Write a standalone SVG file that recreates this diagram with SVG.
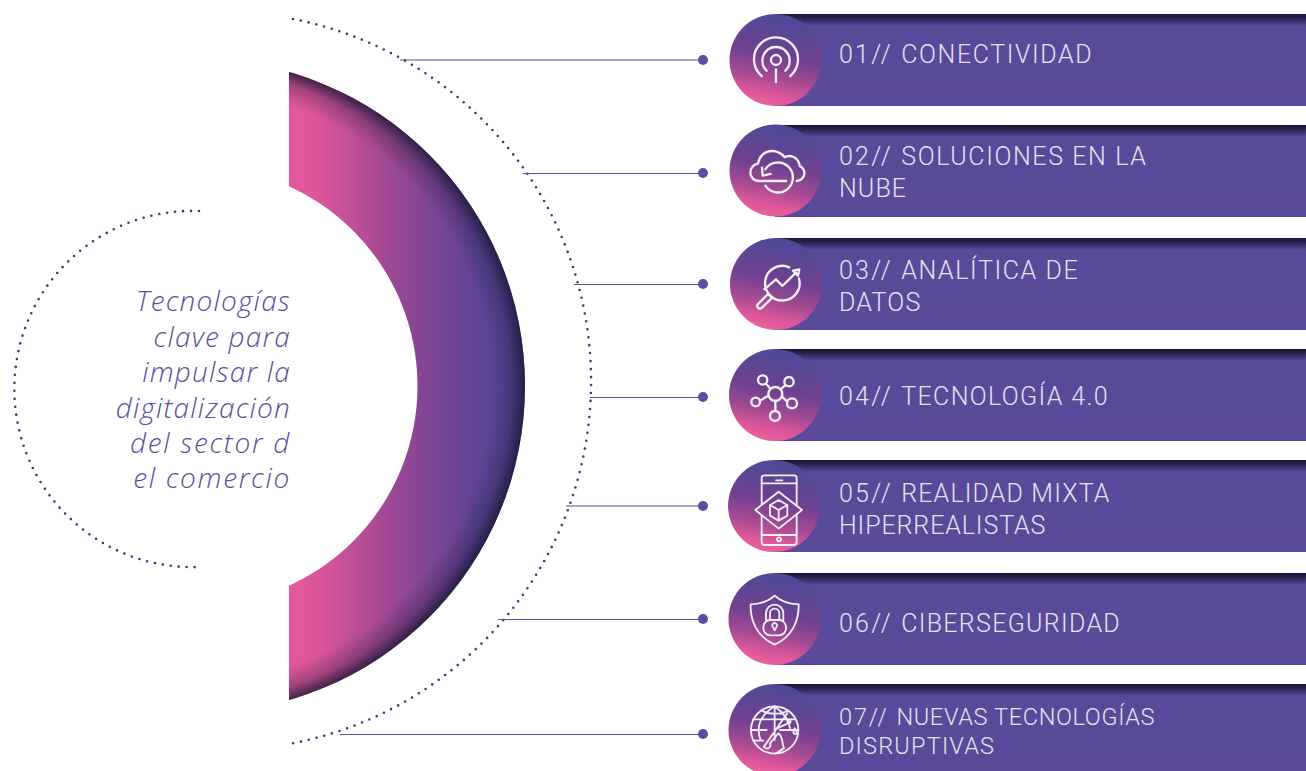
<svg xmlns="http://www.w3.org/2000/svg" width="1306" height="771" viewBox="0 0 1306 771">
<style>
.bar{fill:url(#barG)}
.disc{fill:url(#circG)}
.lbl{font-family:"Roboto","Liberation Sans",sans-serif;font-weight:300;font-size:25px;letter-spacing:1.6px;fill:#e6e3f1}
.sm{font-size:23.5px;letter-spacing:1.2px}
.pre{letter-spacing:2.25px}
.ttl{font-family:"Open Sans","Liberation Sans",sans-serif;font-weight:300;font-style:italic;font-size:28px;letter-spacing:1.2px;fill:#5b4e9e;text-anchor:end}
.dots{fill:none;stroke:#3f3876;stroke-width:2.6;stroke-linecap:round;stroke-dasharray:0 8}
.ln{stroke:#5b4e9e;stroke-width:1.2;fill:none}
.pt{fill:#5b4e9e}
.ic{fill:none;stroke:#f1eff6;stroke-width:7;stroke-linecap:round;stroke-linejoin:round}
.ic2{fill:none;stroke:#f1eff6;stroke-width:5.5;stroke-linecap:round;stroke-linejoin:round}
</style>
<defs>
<linearGradient id="barG" x1="0" y1="0" x2="0" y2="1"><stop offset="0" stop-color="#1c1736"/><stop offset=".035" stop-color="#241d45"/><stop offset=".13" stop-color="#59499a"/><stop offset="1" stop-color="#5a4a99"/></linearGradient>
<linearGradient id="circG" x1=".6" y1="0" x2=".4" y2="1"><stop offset="0" stop-color="#4b4a98"/><stop offset=".45" stop-color="#6f4190"/><stop offset=".68" stop-color="#a14a92"/><stop offset=".88" stop-color="#e0579a"/><stop offset="1" stop-color="#e8639f"/></linearGradient>
<linearGradient id="ringG" gradientUnits="userSpaceOnUse" x1="289" y1="0" x2="525" y2="0"><stop offset="0" stop-color="#e4599c"/><stop offset=".12" stop-color="#dc5699"/><stop offset=".46" stop-color="#974793"/><stop offset=".78" stop-color="#5f4496"/><stop offset="1" stop-color="#534595"/></linearGradient>
<radialGradient id="rimG" gradientUnits="userSpaceOnUse" cx="198" cy="386" r="327"><stop offset=".9" stop-color="#1a1633" stop-opacity="0"/><stop offset=".96" stop-color="#1a1633" stop-opacity=".3"/><stop offset="1" stop-color="#1a1633" stop-opacity=".8"/></radialGradient>
<clipPath id="halfC"><rect x="289" y="0" width="300" height="771"/></clipPath>
</defs>
<g id="core">
<path clip-path="url(#halfC)" fill="url(#ringG)" fill-rule="evenodd" d="M198 59a327 327 0 1 0 0 654a327 327 0 1 0 0-654zM198 166.500a219.500 219.500 0 1 1 0 439a219.500 219.500 0 1 1 0-439z"/>
<path clip-path="url(#halfC)" fill="url(#rimG)" fill-rule="evenodd" d="M198 59a327 327 0 1 0 0 654a327 327 0 1 0 0-654zM198 166.500a219.500 219.500 0 1 1 0 439a219.500 219.500 0 1 1 0-439z"/>
<path class="dots" d="M293 19A369 369 0 0 1 289 744"/>
<path class="dots" d="M199 211A178.120 178.120 0 1 0 199 567"/>
<text class="ttl"><tspan x="291" y="311">Tecnologías</tspan><tspan x="291" y="347">clave para</tspan><tspan x="291" y="382">impulsar la</tspan><tspan x="291" y="418">digitalización</tspan><tspan x="291" y="453" letter-spacing="1.7">del sector d</tspan><tspan x="291" y="488" letter-spacing="1.7">el comercio</tspan></text>
</g>
<g id="connectors">
<path class="ln" d="M400 60H702M523 173.500H702M574 284.500H702M590 397.500H702M566 506H702M498 619.500H702M340 734.500H702"/>
<circle class="pt" cx="703" cy="60" r="5"/><circle class="pt" cx="703" cy="173" r="5"/><circle class="pt" cx="703" cy="284" r="5"/><circle class="pt" cx="703" cy="397" r="5"/><circle class="pt" cx="703" cy="506" r="5"/><circle class="pt" cx="703" cy="619" r="5"/><circle class="pt" cx="703" cy="734" r="5"/>
</g>
<g id="n1">
<rect class="bar" x="775" y="14" width="531" height="92"/><circle class="disc" cx="775.500" cy="60" r="46"/>
<g transform="translate(700 0) scale(.3333)" class="ic"><circle cx="228" cy="180" r="15"/><path d="M228 208V246M185 228A66 66 0 1 1 271 228M200 212A41 41 0 1 1 256 212"/></g>
<text class="lbl" x="839" y="63"><tspan class="pre">01// </tspan>CONECTIVIDAD</text>
</g>
<g id="n2">
<rect class="bar" x="775" y="125" width="531" height="92"/><circle class="disc" cx="775.500" cy="170.500" r="46"/>
<g transform="translate(700 0) scale(.3333)" class="ic"><path d="M258 543H178C160 543 151 530 151 519C151 503 162 493 174 491C178 468 195 453 216 453C234 453 246 462 254 472C262 467 272 467 281 471C292 477 298 487 299 498C309 503 314 512 313 522C312 534 302 543 290 543"/><path d="M196 508A45 45 0 1 1 196 557"/><path d="M186 503L188 527L212 522"/></g>
<text class="lbl" x="839" y="165"><tspan class="pre">02// </tspan>SOLUCIONES EN LA</text><text class="lbl" x="839" y="197" style="letter-spacing:1.1px">NUBE</text>
</g>
<g id="n3">
<rect class="bar" x="775" y="238" width="531" height="92"/><circle class="disc" cx="776" cy="284" r="46"/>
<g transform="translate(700 230) scale(.3333)" class="ic"><path d="M268 112A52 52 0 1 0 297 145"/><path d="M204 192L174 222C167 230 178 241 186 233L216 204Z"/><path d="M193 178L228 148L247 168L288 128"/><path d="M298 118L279 122L294 137Z"/></g>
<text class="lbl" x="839" y="279"><tspan class="pre">03// </tspan>ANALÍTICA DE</text><text class="lbl" x="839" y="311" style="letter-spacing:1.2px">DATOS</text>
</g>
<g id="n4">
<rect class="bar" x="775" y="349" width="531" height="92"/><circle class="disc" cx="775" cy="395" r="46"/>
<g transform="translate(700 230) scale(.3333)" class="ic"><circle cx="226" cy="492" r="21"/><circle cx="188" cy="450" r="14"/><circle cx="267" cy="455" r="14"/><circle cx="167" cy="516" r="13"/><circle cx="276" cy="520" r="15"/><circle cx="225" cy="558" r="15"/><path d="M198 461L212 477M257 465L241 478M180 512L205 497M261 514L246 500M226 513V543"/></g>
<text class="lbl" x="839" y="405"><tspan class="pre">04// </tspan><tspan style="letter-spacing:1.35px">TECNOLOGÍA 4.0</tspan></text>
</g>
<g id="n5">
<rect class="bar" x="775" y="460" width="531" height="92"/><circle class="disc" cx="774" cy="506" r="46"/>
<g transform="translate(700 450) scale(.3333)" class="ic2"><path d="M185 163V84Q185 76 193 76H282Q290 76 290 84V167M290 194V277Q290 285 282 285H193Q185 285 185 277V196"/><path d="M185 100H290M185 255H290M228 91H247"/><circle cx="237" cy="268" r="6"/><path d="M166 180L236 125L306 180L236 236Z"/><path d="M236 150L262 165V197L236 212L210 197V165ZM210 165L236 180L262 165M236 180V212"/></g>
<text class="lbl" x="839" y="502"><tspan class="pre">05// </tspan><tspan style="letter-spacing:1.15px">REALIDAD MIXTA</tspan></text><text class="lbl" x="839" y="534" style="letter-spacing:.9px">HIPERREALISTAS</text>
</g>
<g id="n6">
<rect class="bar" x="775" y="573" width="531" height="92"/><circle class="disc" cx="774.500" cy="619" r="46"/>
<g transform="translate(700 450) scale(.3333)" class="ic2"><path d="M224 437C205 455 180 462 152 463C150 510 170 560 224 584C278 560 297 510 296 463C268 462 243 455 224 437Z"/><rect x="190" y="510" width="68" height="46" rx="21"/><path d="M198 511V490A26 26 0 0 1 250 490V511M210 510V490A14 14 0 0 1 238 490V510"/><path d="M224 541L218 530A7 7 0 1 1 230 530Z"/></g>
<text class="lbl" x="839" y="632"><tspan class="pre">06// </tspan><tspan style="letter-spacing:1.3px">CIBERSEGURIDAD</tspan></text>
</g>
<g id="n7">
<rect class="bar" x="775" y="684" width="531" height="92"/><circle class="disc" cx="774.500" cy="730" r="46"/>
<g transform="translate(700 450) scale(.3333)" class="ic2"><circle cx="224" cy="840" r="71"/><path d="M224 769C190 790 176 815 176 840C176 850 178 860 182 872M224 769C252 790 268 815 270 835M224 769V870M160 808H284M153 840H200M240 840H295M160 872H190M186 782C205 794 245 794 262 782M262 790L192 890"/><path d="M232 835C252 825 265 820 272 815M272 815A5 5 0 1 1 272 814M192 890A8 8 0 1 0 210 880L235 850C250 860 245 880 252 895C240 900 236 908 226 910M284 835C292 845 292 855 284 852C278 850 280 840 284 835Z"/></g>
<text class="lbl sm" x="839" y="725"><tspan style="letter-spacing:1.9px">07// </tspan><tspan style="letter-spacing:.65px">NUEVAS TECNOLOGÍAS</tspan></text><text class="lbl sm" x="839" y="754">DISRUPTIVAS</text>
</g>
</svg>
